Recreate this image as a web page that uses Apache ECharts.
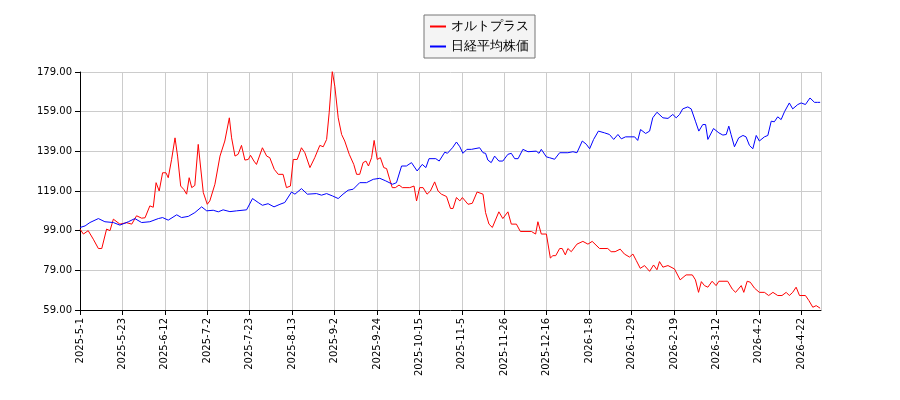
<!DOCTYPE html>
<html><head><meta charset="utf-8">
<script src="https://cdn.jsdelivr.net/npm/echarts@6/dist/echarts.min.js"></script>
<style>html,body{margin:0;padding:0;background:#fff}#c{width:900px;height:400px}</style>
</head><body><div id="c"></div>
<script>
var tickLabels = ["2025-5-1","2025-5-23","2025-6-12","2025-7-2","2025-7-23","2025-8-13","2025-9-2","2025-9-24","2025-10-15","2025-11-5","2025-11-26","2025-12-16","2026-1-8","2026-1-29","2026-2-19","2026-3-12","2026-4-2","2026-4-22"];
var yMin = 59, yMax = 179, yStep = 20;
var seriesNames = ["オルトプラス","日経平均株価"];
var orto = [[0,99.8],[1.2,97.3],[2.9,99],[4.7,94.7],[6.5,90],[7.7,90],[9.4,99.8],[10.6,99],[11.8,104.8],[14.1,102.3],[16.5,103],[18.3,102.3],[20,106.5],[21.8,105.3],[23,105.5],[24.7,111.5],[25.9,110.8],[26.9,123.2],[28,119],[29.2,128.2],[30.4,128.2],[31.2,125.7],[32.4,135],[33.6,145.8],[34.5,136.6],[35.6,121.5],[36.7,119.8],[37.7,117.4],[38.6,125.7],[39.5,120.7],[40.6,121.8],[41.8,142.5],[42.6,131.6],[43.6,118.2],[45,112.3],[45.9,114],[47.7,122.4],[49.5,136.6],[51.2,144.2],[52.8,155.9],[53.6,145.8],[54.8,136.6],[55.9,137.5],[57.1,142],[58.3,134.6],[59.5,134.9],[60.3,137],[61.5,134.1],[62.4,132.4],[64.5,140.8],[66,136.6],[67.1,135.8],[68.7,129.9],[70.1,127.4],[71.8,127.4],[73,120.7],[74.4,121.5],[75.4,134.9],[76.8,134.9],[78.3,140.8],[79.5,138.3],[81.3,130.8],[83,135.8],[84.8,142],[86,141.3],[87.2,145],[88.1,158.4],[89.2,179.3],[90.1,171.8],[91.3,155.9],[92.5,147.5],[93.6,144.2],[95.2,137.5],[96.8,132.4],[97.8,127.4],[98.9,127.4],[100.1,133.3],[101.1,134.1],[102,131.6],[103.1,135.8],[104,144.5],[105.1,134.9],[106.2,135.8],[107.4,130.8],[108.4,130.3],[109.5,124.9],[110.4,120.7],[111.5,120.7],[112.8,122],[114,120.7],[116.6,120.7],[118.1,121.5],[119,114],[120.1,120.7],[121.3,120.7],[122.7,117.4],[123.9,119],[125.4,123.6],[126.6,119],[127.8,117.4],[129.6,116.2],[131,110.2],[131.9,110.2],[133.1,115.7],[134.3,114],[135.2,115.7],[137.2,112.3],[138.7,112.8],[140.4,118.5],[142.5,117.4],[143.4,108.1],[144.6,102.3],[145.8,100.6],[148.1,108.5],[149.5,105.1],[151.3,108.5],[152.5,102.3],[154.3,102.3],[155.7,98.6],[159.6,98.6],[161.1,97.3],[161.9,103.5],[163.1,97.3],[164.9,97.3],[166.3,85.2],[167.2,86.4],[168.2,86.4],[169.6,90],[170.5,90],[171.6,86.8],[172.5,90],[173.7,88.4],[175.7,92.2],[177.8,93.6],[179.6,92.2],[181.1,93.6],[183.7,90],[186.6,90],[187.8,88.4],[189.2,88.4],[191,89.7],[192.5,87.2],[194.3,85.7],[195.5,87.2],[196.7,83.9],[198.1,80],[199.6,81.4],[201.4,78.5],[202.8,81.7],[204,79.3],[204.9,83.4],[206.1,80.6],[207.9,81.4],[210.2,79.7],[212.2,74.2],[214.3,76.7],[216.5,76.7],[217.6,74.2],[218.7,67.9],[219.7,73.3],[220.8,71.3],[222,70.5],[223.5,73.5],[224.9,71.3],[225.9,73.5],[229,73.5],[230.6,69.6],[231.8,67.9],[233.8,71.3],[234.7,67.9],[235.9,73.5],[237,73],[238.5,70],[240.2,67.9],[242,67.9],[243.5,66.3],[245,67.9],[246.7,66.3],[248.2,66.3],[249.7,67.9],[250.8,66.3],[252,67.9],[253.2,70.5],[254.4,66.3],[256.5,66.3],[257.7,63.8],[259.1,60.4],[260.3,61.2],[261.7,59.9]];
var nikkei = [[0,100.6],[1.8,101.4],[3.5,103.1],[6.5,105.1],[8.8,103.5],[11.8,103.1],[14.1,101.8],[17.1,103.5],[19.4,105.1],[21.8,103.1],[24.7,103.5],[27.7,105.1],[29.2,105.6],[31.2,104.3],[34.2,107],[35.9,105.6],[38.3,106.2],[40.6,108.1],[43,111],[44.8,109],[47.1,109.3],[48.9,108.5],[50.6,109.5],[53,108.6],[55.4,109],[58.9,109.5],[61,115.2],[63,113.2],[64.5,111.8],[66.5,112.6],[68.6,111],[70.7,112.3],[72.4,113.2],[74.8,118.5],[76,117.4],[78.3,120.2],[80.4,117.4],[83.6,117.7],[85.4,116.9],[87.2,117.7],[89.3,116.5],[91.3,115.2],[93,117.4],[94.8,119.4],[96.6,119.9],[98.9,123.2],[101.3,123.2],[103.7,124.9],[106,125.4],[108.1,124.1],[110.5,122.4],[111.9,123.2],[113.7,131.6],[115.4,131.6],[117.2,133.3],[119.2,129.1],[121,132.4],[122.3,130.8],[123.4,135.3],[125.8,135.3],[127,134.1],[129,138.6],[129.9,138],[131.7,140.8],[133.1,143.7],[134.3,141.3],[135.4,138],[136.8,140],[138.4,140],[141.3,140.8],[142.5,138.3],[143.4,138],[144.2,134.6],[145.4,133.3],[146.6,136.6],[148.1,134.1],[149.5,134.1],[151.3,137.5],[152.5,138],[153.7,135.3],[154.9,135.3],[156.6,140],[158.4,138.8],[161.3,139.1],[162.3,138],[163.1,140],[164.9,136.2],[166,135.8],[167.8,135],[169.6,138.3],[172.5,138.3],[174.3,138.8],[175.7,138.3],[177.6,144.2],[179,142.6],[180.2,140.3],[181.6,145],[183.3,149.2],[185.5,148.3],[187.2,147.5],[188.7,145],[190.2,147.5],[191.4,145.3],[192.9,146.3],[196.1,146.3],[197.2,144.5],[198.2,150],[200,148],[201.4,149.2],[202.5,155.9],[204,158.7],[206.1,155.9],[207.9,155.6],[209.6,157.6],[210.8,155.9],[212,157.6],[213.1,160.4],[214.9,161.4],[216.1,160.4],[217.6,154.2],[218.8,149.2],[220.2,152.5],[221.2,152.5],[222,145],[224,150.5],[225.9,148.3],[227.3,147.2],[228.5,147.5],[229.4,151.7],[230.2,147.5],[231.4,141.3],[232.9,145.8],[234.4,147],[235.5,146.3],[236.7,142],[237.9,140.3],[239.1,147],[240.2,144.2],[242,146.3],[243.2,147],[244.4,154.2],[245.5,153.9],[246.7,156.4],[247.9,155],[249.1,159],[250.8,163.4],[252,160.4],[253.8,162.6],[255,163.4],[256.5,162.6],[258.1,165.9],[259.7,163.7],[260.8,163.7],[261.7,163.7]];
var tickStep = 15, xMax = 262;

function shift(arr){ return arr.map(function(p){ return [p[0], p[1]-yMin]; }); }
var chart = echarts.init(document.getElementById('c'));
chart.setOption({
  animation:false,
  textStyle:{fontFamily:'DejaVu Sans'},
  legend:{orient:'vertical',top:15,left:424,itemWidth:16,itemHeight:2,itemGap:7,
    padding:[5,6,5,6],borderColor:'#777',borderWidth:1,borderRadius:0,backgroundColor:'#f4f4f4',
    textStyle:{fontSize:12.5,color:'#000'},
    data:[{name:seriesNames[0],icon:'rect'},{name:seriesNames[1],icon:'rect'}]},
  grid:{left:80,right:79,top:72,bottom:90},
  xAxis:{type:'value',min:0,max:xMax,interval:tickStep,
    axisLine:{onZero:false,lineStyle:{color:'#000'}},
    axisTick:{lineStyle:{color:'#000'}},
    splitLine:{lineStyle:{color:'#ccc'}},
    axisLabel:{rotate:90,fontSize:10,color:'#000',showMaxLabel:false,
      formatter:function(v){var i=Math.round(v/tickStep);return (v%tickStep===0&&tickLabels[i])?tickLabels[i]:'';}}},
  yAxis:{type:'value',min:0,max:yMax-yMin,interval:yStep,
    axisLine:{show:true,lineStyle:{color:'#000'}},
    axisTick:{show:true,lineStyle:{color:'#000'}},
    splitLine:{lineStyle:{color:'#ccc'}},
    axisLabel:{fontSize:10,color:'#000',formatter:function(v){return (v+yMin).toFixed(2);}}},
  series:[
    {name:seriesNames[0],type:'line',data:shift(orto),showSymbol:false,lineStyle:{color:'#ff0000',width:1},itemStyle:{color:'#ff0000'}},
    {name:seriesNames[1],type:'line',data:shift(nikkei),showSymbol:false,lineStyle:{color:'#0000ff',width:1},itemStyle:{color:'#0000ff'}}
  ]
});
</script></body></html>
